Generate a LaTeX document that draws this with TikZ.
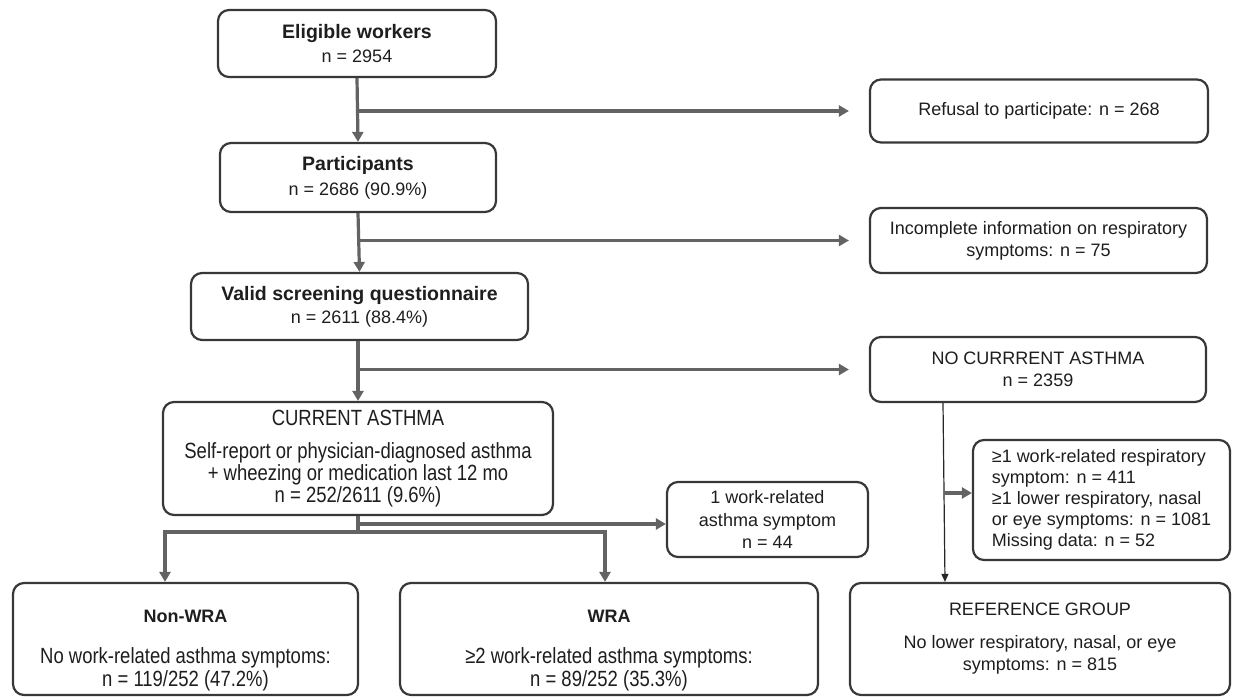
\documentclass[tikz,border=0pt]{standalone}
\usepackage{fontspec}
\setmainfont{Liberation Sans}
\newfontfamily\narrowf[FakeStretch=0.84]{Liberation Sans}
\usetikzlibrary{arrows.meta}
\definecolor{boxline}{HTML}{383838}
\definecolor{conncol}{HTML}{636363}
\definecolor{txtcol}{HTML}{1E1E1E}
\begin{document}
\begin{tikzpicture}[x=1pt,y=-1pt,
  box/.style={draw=boxline, line width=2.2pt, rounded corners=11pt, fill=white,
              align=center, text=txtcol, inner sep=0pt,
              font=\fontsize{18}{22}\selectfont},
  txtnode/.style={align=center, text=txtcol, inner sep=0pt, font=\fontsize{18}{23}\selectfont},
  conn/.style={draw=conncol, line width=3.2pt, -{Triangle[length=10pt,width=11pt]}},
  connline/.style={draw=conncol, line width=3.2pt},
  thinconn/.style={draw=black!85, line width=1.2pt, -{Triangle[length=8pt,width=7pt]}}
]
\useasboundingbox (0,0) rectangle (1233,698);

% main column
\node[box, minimum width=278pt, minimum height=67pt, font=\fontsize{18}{24}\selectfont] (elig) at (357,43.5)
  {{\fontsize{19.5}{24}\selectfont\bfseries Eligible workers}\\ n = 2954};
\node[box, minimum width=276pt, minimum height=69pt, font=\fontsize{18}{25}\selectfont] (part) at (358,177.5)
  {{\fontsize{19.5}{25}\selectfont\bfseries Participants}\\ n = 2686 (90.9\%)};
\node[box, minimum width=337pt, minimum height=67pt, font=\fontsize{18}{23}\selectfont] (valid) at (359.5,306.5)
  {{\fontsize{19.5}{23}\selectfont\bfseries Valid screening questionnaire}\\ n = 2611 (88.4\%)};
\node[box, minimum width=390pt, minimum height=113pt, font=\narrowf\fontsize{22}{22}\selectfont] (curr) at (358,458.5)
  {CURRENT ASTHMA\\[11pt] Self-report or physician-diagnosed asthma\\ + wheezing or medication last 12 mo\\ n = 252/2611 (9.6\%)};

% bottom groups
\node[box, minimum width=345pt, minimum height=112pt] (nonwra) at (185.5,639) {};
\node[txtnode] (nonwraT) at ([yshift=-12pt]nonwra.center)
  {\textbf{Non-WRA}\\[18pt]{\narrowf\fontsize{22}{23}\selectfont No work-related asthma symptoms:}\\{\narrowf\fontsize{22}{23}\selectfont n = 119/252 (47.2\%)}};
\node[box, minimum width=418pt, minimum height=112pt] (wra) at (609,639) {};
\node[txtnode] (wraT) at ([yshift=-12pt]wra.center)
  {\textbf{WRA}\\[18pt]{\narrowf\fontsize{22}{23}\selectfont ≥2 work-related asthma symptoms:}\\{\narrowf\fontsize{22}{23}\selectfont n = 89/252 (35.3\%)}};
\node[box, minimum width=380pt, minimum height=112pt] (ref) at (1040,639)
  {REFERENCE GROUP\\[11pt] No lower respiratory, nasal, or eye\\ symptoms: n = 815};

% right column
\node[box, minimum width=338pt, minimum height=63pt] (refusal) at (1039,111)
  {Refusal to participate: n = 268};
\node[box, minimum width=337pt, minimum height=65pt] (incomp) at (1038.5,240.5)
  {Incomplete information on respiratory\\ symptoms: n = 75};
\node[box, minimum width=336pt, minimum height=65pt] (nocur) at (1038,369.5)
  {NO CURRRENT ASTHMA\\ n = 2359};
\node[box, minimum width=201pt, minimum height=75pt, font=\fontsize{18}{22.5}\selectfont] (one) at (767.5,519.5)
  {1 work-related\\ asthma symptom\\ n = 44};
\node[box, minimum width=257pt, minimum height=120pt, align=left, font=\fontsize{18}{21}\selectfont] (ge1) at (1101.5,500)
  {≥1 work-related respiratory\\ symptom: n = 411\\ ≥1 lower respiratory, nasal\\ or eye symptoms: n = 1081\\ Missing data: n = 52};

% connectors main column
\draw[conn] (elig.south) -- (part.north);
\draw[conn] (elig.south |- refusal.west) -- ([xshift=-20pt]refusal.west);
\draw[conn] (part.south) -- (valid.north);
\draw[conn] (part.south |- incomp.west) -- ([xshift=-20pt]incomp.west);
\draw[conn] (valid.south -| curr.north) -- (curr.north);
\draw[conn] (curr.north |- nocur.west) -- ([xshift=-20pt]nocur.west);

% split below current asthma
\coordinate (split) at (358,532);
\coordinate (jl) at (165,532);
\coordinate (jr) at (605,532);
\coordinate (oj) at (358,524);
\draw[connline] (curr.south) -- (split);
\draw[conn] (split) -- (jl) -- (jl |- nonwra.north);
\draw[conn] (split) -- (jr) -- (jr |- wra.north);
\draw[conn] (oj) -- ([yshift=-4.5pt]one.west);

% no current asthma branch
\coordinate (nct) at ([xshift=-95pt]nocur.south);
\coordinate (ncm) at (943.5,493);
\draw[thinconn] (nct) -- ([xshift=-95pt]ref.north);
\draw[conn] (ncm) -- ([yshift=7pt]ge1.west);
\end{tikzpicture}
\end{document}
